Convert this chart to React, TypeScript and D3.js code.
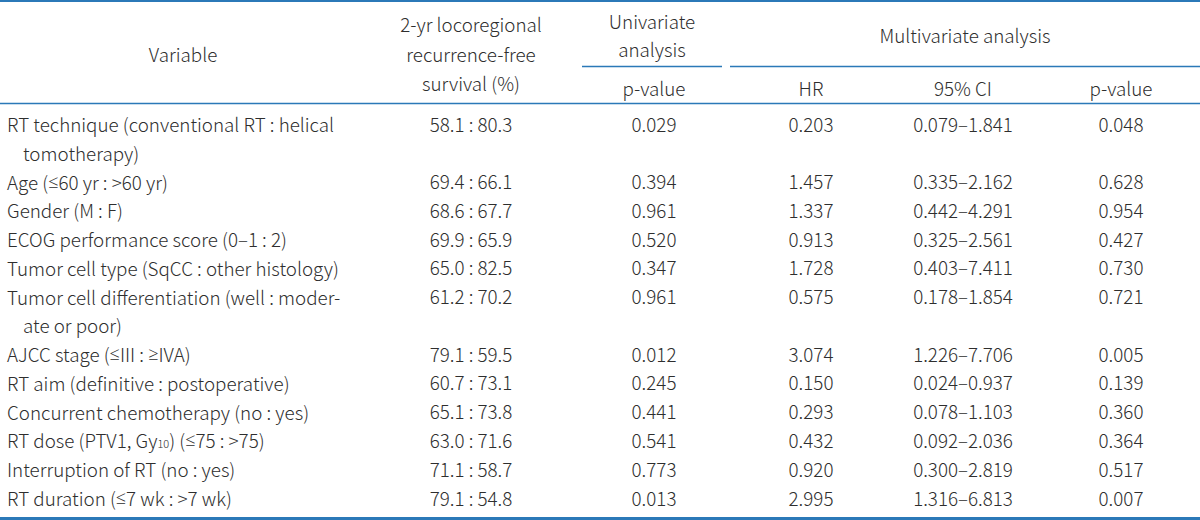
import React from "react";
import * as d3 from "d3";

const variables: string[][] = [
  ["RT technique (conventional RT : helical", "tomotherapy)"],
  ["Age (≤60 yr : >60 yr)"],
  ["Gender (M : F)"],
  ["ECOG performance score (0–1 : 2)"],
  ["Tumor cell type (SqCC : other histology)"],
  ["Tumor cell differentiation (well : moder-", "ate or poor)"],
  ["AJCC stage (≤III : ≥IVA)"],
  ["RT aim (definitive : postoperative)"],
  ["Concurrent chemotherapy (no : yes)"],
  ["RT dose (PTV1, Gy|10) (≤75 : >75)"],
  ["Interruption of RT (no : yes)"],
  ["RT duration (≤7 wk : >7 wk)"],
];
const survival = ["58.1 : 80.3", "69.4 : 66.1", "68.6 : 67.7", "69.9 : 65.9", "65.0 : 82.5", "61.2 : 70.2", "79.1 : 59.5", "60.7 : 73.1", "65.1 : 73.8", "63.0 : 71.6", "71.1 : 58.7", "79.1 : 54.8"];
const uniP = ["0.029", "0.394", "0.961", "0.520", "0.347", "0.961", "0.012", "0.245", "0.441", "0.541", "0.773", "0.013"];
const hr = ["0.203", "1.457", "1.337", "0.913", "1.728", "0.575", "3.074", "0.150", "0.293", "0.432", "0.920", "2.995"];
const ci = ["0.079–1.841", "0.335–2.162", "0.442–4.291", "0.325–2.561", "0.403–7.411", "0.178–1.854", "1.226–7.706", "0.024–0.937", "0.078–1.103", "0.092–2.036", "0.300–2.819", "1.316–6.813"];
const multiP = ["0.048", "0.628", "0.954", "0.427", "0.730", "0.721", "0.005", "0.139", "0.360", "0.364", "0.517", "0.007"];

const W = 1200;
const H = 520;
const LINE = "#2b79b8";
const TXT = "#2e2e2e";
const FONT = "'Noto Sans CJK KR', 'Noto Sans', sans-serif";
const FS = 18.8;

const colX = { variable: 183, surv: 471, uni: 654, hr: 811, ci: 963, mp: 1121 };

const renderText = (s: string) => {
  const parts: React.ReactNode[] = [];
  let key = 0;
  let sub = false;
  const segs = s.split(/(\|\d+|[≤≥])/);
  segs.forEach((seg) => {
    if (!seg) return;
    if (seg === "≤" || seg === "≥") {
      parts.push(<tspan key={key++} fontFamily="'Open Sans', 'Noto Sans', sans-serif" fontSize={18}>{seg}</tspan>);
    } else if (seg.startsWith("|")) {
      parts.push(<tspan key={key++} fontSize={11} dy={4}>{seg.slice(1)}</tspan>);
      sub = true;
    } else if (sub) {
      parts.push(<tspan key={key++} dy={-4}>{seg}</tspan>);
      sub = false;
    } else {
      parts.push(<tspan key={key++}>{seg}</tspan>);
    }
  });
  return parts;
};

export default function App() {
  const totalLines = d3.sum(variables, (v) => v.length);
  const yLine = d3.scaleLinear().domain([0, totalLines - 1]).range([123, 497]);

  let idx = 0;
  const rows = variables.map((lines, i) => {
    const start = idx;
    idx += lines.length;
    return { lines, start, i };
  });

  return (
    <svg width={W} height={H} style={{ position: "absolute", left: 0, top: 0, background: "#fff" }}>
      <g fontFamily={FONT} fontSize={FS} fontWeight={300} fill={TXT}>
        <text x={colX.variable} y={53} textAnchor="middle" dominantBaseline="central">Variable</text>
        <text x={colX.surv} y={23} textAnchor="middle" dominantBaseline="central">2-yr locoregional</text>
        <text x={colX.surv} y={53} textAnchor="middle" dominantBaseline="central">recurrence-free</text>
        <text x={colX.surv} y={82} textAnchor="middle" dominantBaseline="central">survival (%)</text>
        <text x={652} y={20} textAnchor="middle" dominantBaseline="central">Univariate</text>
        <text x={652} y={48} textAnchor="middle" dominantBaseline="central">analysis</text>
        <text x={965} y={34} textAnchor="middle" dominantBaseline="central">Multivariate analysis</text>
        <text x={colX.uni} y={87} textAnchor="middle" dominantBaseline="central">p-value</text>
        <text x={colX.hr} y={87} textAnchor="middle" dominantBaseline="central">HR</text>
        <text x={colX.ci} y={87} textAnchor="middle" dominantBaseline="central">95% CI</text>
        <text x={colX.mp} y={87} textAnchor="middle" dominantBaseline="central">p-value</text>

        {rows.map((r) => (
          <g key={r.i}>
            {r.lines.map((l, j) => (
              <text key={j} x={j === 0 ? 7 : 23} y={yLine(r.start + j)} dominantBaseline="central">
                {renderText(l)}
              </text>
            ))}
            <text x={colX.surv} y={yLine(r.start)} textAnchor="middle" dominantBaseline="central">{survival[r.i]}</text>
            <text x={colX.uni} y={yLine(r.start)} textAnchor="middle" dominantBaseline="central">{uniP[r.i]}</text>
            <text x={colX.hr} y={yLine(r.start)} textAnchor="middle" dominantBaseline="central">{hr[r.i]}</text>
            <text x={colX.ci} y={yLine(r.start)} textAnchor="middle" dominantBaseline="central">{ci[r.i]}</text>
            <text x={colX.mp} y={yLine(r.start)} textAnchor="middle" dominantBaseline="central">{multiP[r.i]}</text>
          </g>
        ))}
      </g>
      <line x1={0} x2={W} y1={1} y2={1} stroke={LINE} strokeWidth={2} />
      <line x1={582} x2={722} y1={66.5} y2={66.5} stroke={LINE} strokeWidth={1.3} />
      <line x1={730} x2={W} y1={66.5} y2={66.5} stroke={LINE} strokeWidth={1.3} />
      <line x1={0} x2={W} y1={103.5} y2={103.5} stroke={LINE} strokeWidth={1.3} />
      <line x1={0} x2={W} y1={518.5} y2={518.5} stroke={LINE} strokeWidth={3} />
    </svg>
  );
}
